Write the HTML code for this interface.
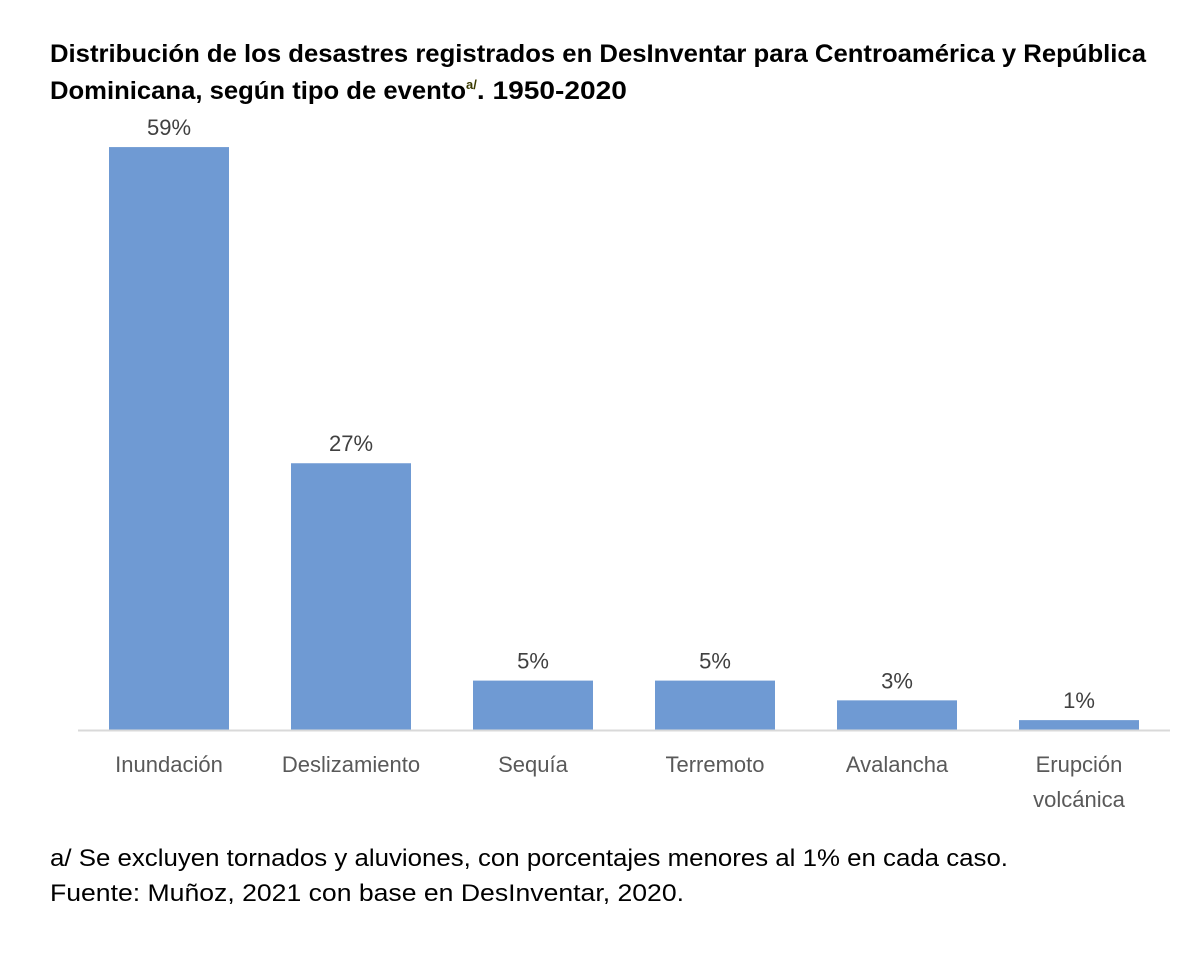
<!DOCTYPE html>
<html><head><meta charset="utf-8">
<style>
html,body{margin:0;padding:0;background:#fff;}
svg{display:block;font-family:"Liberation Sans",sans-serif;}
</style></head>
<body>
<svg id="chart" width="1200" height="972" viewBox="0 0 1200 972" xmlns="http://www.w3.org/2000/svg">
<text x="50" y="62" font-size="25" font-weight="bold" fill="#000" textLength="1096" lengthAdjust="spacingAndGlyphs">Distribución de los desastres registrados en DesInventar para Centroamérica y República</text>
<text x="50" y="99" font-size="25" font-weight="bold" fill="#000"><tspan textLength="416" lengthAdjust="spacingAndGlyphs">Dominicana, según tipo de evento</tspan><tspan font-size="13" dy="-10" fill="#3a3a00">a/</tspan><tspan dy="10" textLength="150" lengthAdjust="spacingAndGlyphs">. 1950-2020</tspan></text>
<g id="bars"></g>
<line x1="78" y1="730.5" x2="1170" y2="730.5" stroke="#d9d9d9" stroke-width="2"/>
<text x="50" y="866" font-size="24" fill="#000" textLength="958" lengthAdjust="spacingAndGlyphs">a/ Se excluyen tornados y aluviones, con porcentajes menores al 1% en cada caso.</text>
<text x="50" y="901" font-size="24" fill="#000" textLength="634" lengthAdjust="spacingAndGlyphs">Fuente: Muñoz, 2021 con base en DesInventar, 2020.</text>
</svg>
<script>
const categories = [["Inundación"],["Deslizamiento"],["Sequía"],["Terremoto"],["Avalancha"],["Erupción","volcánica"]];
const values = [59,27,5,5,3,1];
const valueLabels = ["59%","27%","5%","5%","3%","1%"];

const NS="http://www.w3.org/2000/svg";
const g=document.getElementById('bars');
const x0=78, band=182, barW=120, baseY=730, pxPer=9.88;
const xScale=i=>x0+band*i+band/2;
const yScale=v=>baseY-v*pxPer;
values.forEach((v,i)=>{
  const cx=xScale(i);
  const r=document.createElementNS(NS,'rect');
  
  
  r.setAttribute('x',cx-barW/2);r.setAttribute('y',yScale(v));
  r.setAttribute('width',barW);r.setAttribute('height',baseY-yScale(v));
  r.setAttribute('fill','#6f9ad3');
  g.appendChild(r);
  const t=document.createElementNS(NS,'text');
  
  
  t.setAttribute('x',cx);t.setAttribute('y',yScale(v)-12);
  t.setAttribute('text-anchor','middle');t.setAttribute('font-size','22');t.setAttribute('fill','#404040');
  t.textContent=valueLabels[i];
  g.appendChild(t);
  categories[i].forEach((line,j)=>{
    const c=document.createElementNS(NS,'text');
    
    
    c.setAttribute('x',cx);c.setAttribute('y',772+j*35);
    c.setAttribute('text-anchor','middle');c.setAttribute('font-size','22');c.setAttribute('fill','#595959');
    c.textContent=line;
    g.appendChild(c);
  });
});
</script>
</body></html>
